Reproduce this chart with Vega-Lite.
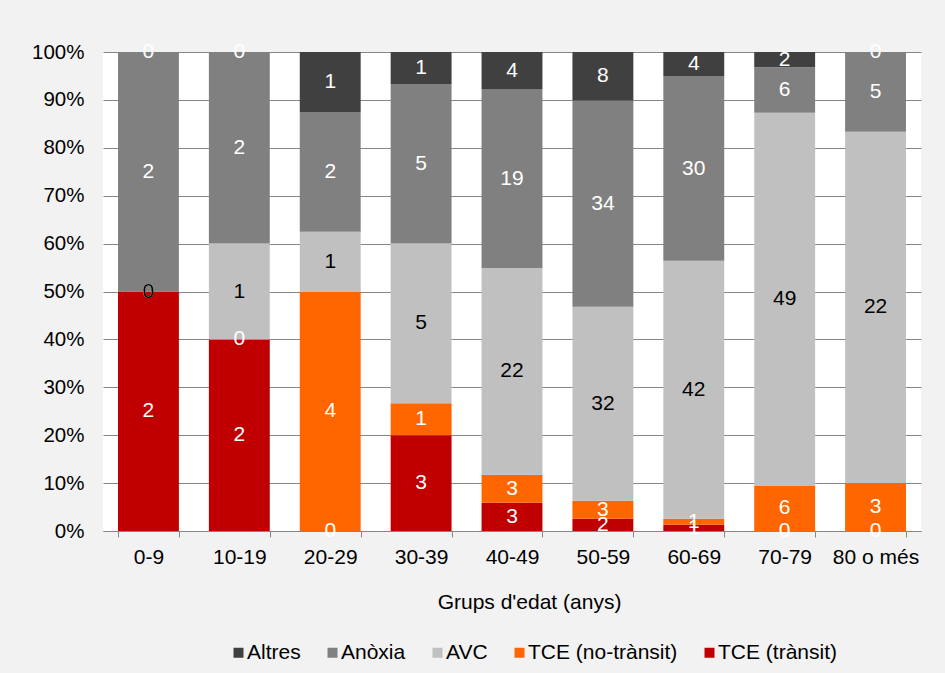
{
  "$schema": "https://vega.github.io/schema/vega-lite/v6.json",
  "width": 818,
  "height": 479,
  "autosize": {"type": "none"},
  "padding": {"left": 103, "top": 52, "right": 24, "bottom": 142},
  "background": "#f2f2f2",
  "config": {"view": {"fill": "white", "stroke": null}, "font": "Liberation Sans"},
  "data": {"values": [
    {"age": "0-9", "cat": "TCE (trànsit)", "n": 2},
    {"age": "0-9", "cat": "TCE (no-trànsit)", "n": 0},
    {"age": "0-9", "cat": "AVC", "n": 0},
    {"age": "0-9", "cat": "Anòxia", "n": 2},
    {"age": "0-9", "cat": "Altres", "n": 0},
    {"age": "10-19", "cat": "TCE (trànsit)", "n": 2},
    {"age": "10-19", "cat": "TCE (no-trànsit)", "n": 0},
    {"age": "10-19", "cat": "AVC", "n": 1},
    {"age": "10-19", "cat": "Anòxia", "n": 2},
    {"age": "10-19", "cat": "Altres", "n": 0},
    {"age": "20-29", "cat": "TCE (trànsit)", "n": 0},
    {"age": "20-29", "cat": "TCE (no-trànsit)", "n": 4},
    {"age": "20-29", "cat": "AVC", "n": 1},
    {"age": "20-29", "cat": "Anòxia", "n": 2},
    {"age": "20-29", "cat": "Altres", "n": 1},
    {"age": "30-39", "cat": "TCE (trànsit)", "n": 3},
    {"age": "30-39", "cat": "TCE (no-trànsit)", "n": 1},
    {"age": "30-39", "cat": "AVC", "n": 5},
    {"age": "30-39", "cat": "Anòxia", "n": 5},
    {"age": "30-39", "cat": "Altres", "n": 1},
    {"age": "40-49", "cat": "TCE (trànsit)", "n": 3},
    {"age": "40-49", "cat": "TCE (no-trànsit)", "n": 3},
    {"age": "40-49", "cat": "AVC", "n": 22},
    {"age": "40-49", "cat": "Anòxia", "n": 19},
    {"age": "40-49", "cat": "Altres", "n": 4},
    {"age": "50-59", "cat": "TCE (trànsit)", "n": 2},
    {"age": "50-59", "cat": "TCE (no-trànsit)", "n": 3},
    {"age": "50-59", "cat": "AVC", "n": 32},
    {"age": "50-59", "cat": "Anòxia", "n": 34},
    {"age": "50-59", "cat": "Altres", "n": 8},
    {"age": "60-69", "cat": "TCE (trànsit)", "n": 1},
    {"age": "60-69", "cat": "TCE (no-trànsit)", "n": 1},
    {"age": "60-69", "cat": "AVC", "n": 42},
    {"age": "60-69", "cat": "Anòxia", "n": 30},
    {"age": "60-69", "cat": "Altres", "n": 4},
    {"age": "70-79", "cat": "TCE (trànsit)", "n": 0},
    {"age": "70-79", "cat": "TCE (no-trànsit)", "n": 6},
    {"age": "70-79", "cat": "AVC", "n": 49},
    {"age": "70-79", "cat": "Anòxia", "n": 6},
    {"age": "70-79", "cat": "Altres", "n": 2},
    {"age": "80 o més", "cat": "TCE (trànsit)", "n": 0},
    {"age": "80 o més", "cat": "TCE (no-trànsit)", "n": 3},
    {"age": "80 o més", "cat": "AVC", "n": 22},
    {"age": "80 o més", "cat": "Anòxia", "n": 5},
    {"age": "80 o més", "cat": "Altres", "n": 0}
  ]},
  "transform": [
    {"calculate": "indexof(['TCE (trànsit)','TCE (no-trànsit)','AVC','Anòxia','Altres'], datum.cat)", "as": "ord"},
    {"stack": "n", "groupby": ["age"], "sort": [{"field": "ord", "order": "ascending"}], "as": ["y0", "y1"], "offset": "normalize"},
    {"calculate": "(datum.y0 + datum.y1) / 2", "as": "mid"}
  ],
  "encoding": {
    "x": {
      "field": "age",
      "type": "nominal",
      "sort": ["0-9", "10-19", "20-29", "30-39", "40-49", "50-59", "60-69", "70-79", "80 o més"],
      "scale": {"paddingInner": 0.33, "paddingOuter": 0.165},
      "axis": {
        "labelAngle": 0,
        "tickBand": "extent",
        "tickSize": 6,
        "tickColor": "#868686",
        "domainColor": "#868686",
        "labelPadding": 9,
        "labelFontSize": 21,
        "labelColor": "#000000",
        "title": "Grups d'edat (anys)",
        "titleFontSize": 21,
        "titleFontWeight": "normal",
        "titleColor": "#000000",
        "titleX": 426,
        "titleY": 77,
        "titleBaseline": "alphabetic",
        "titleAlign": "center",
        "grid": false
      }
    }
  },
  "layer": [
    {
      "mark": {"type": "bar"},
      "encoding": {
        "y": {
          "field": "y0",
          "type": "quantitative",
          "scale": {"domain": [0, 1], "nice": false},
          "axis": {
            "format": ".0%",
            "values": [0, 0.1, 0.2, 0.3, 0.4, 0.5, 0.6, 0.7, 0.8, 0.9, 1],
            "grid": true,
            "gridColor": "#868686",
            "domain": false,
            "ticks": false,
            "labelPadding": 19,
            "labelFontSize": 20.5,
            "labelColor": "#000000",
            "title": null
          }
        },
        "y2": {"field": "y1"},
        "color": {
          "field": "cat",
          "type": "nominal",
          "scale": {
            "domain": ["Altres", "Anòxia", "AVC", "TCE (no-trànsit)", "TCE (trànsit)"],
            "range": ["#404040", "#808080", "#c0c0c0", "#ff6600", "#c00000"]
          },
          "legend": {
            "orient": "none",
            "legendX": 125,
            "legendY": 590,
            "direction": "horizontal",
            "title": null,
            "symbolType": "square",
            "symbolSize": 100,
            "symbolStrokeWidth": 0,
            "labelFontSize": 21,
            "labelColor": "#000000",
            "labelOffset": -2,
            "columnPadding": 21,
            "padding": 0
          }
        }
      }
    },
    {
      "mark": {"type": "text", "fontSize": 21, "baseline": "middle", "align": "center"},
      "encoding": {
        "y": {"field": "mid", "type": "quantitative"},
        "text": {"field": "n", "type": "quantitative"},
        "color": {"condition": {"test": "datum.cat === 'AVC'", "value": "#000000"}, "value": "#ffffff"}
      }
    }
  ]
}
